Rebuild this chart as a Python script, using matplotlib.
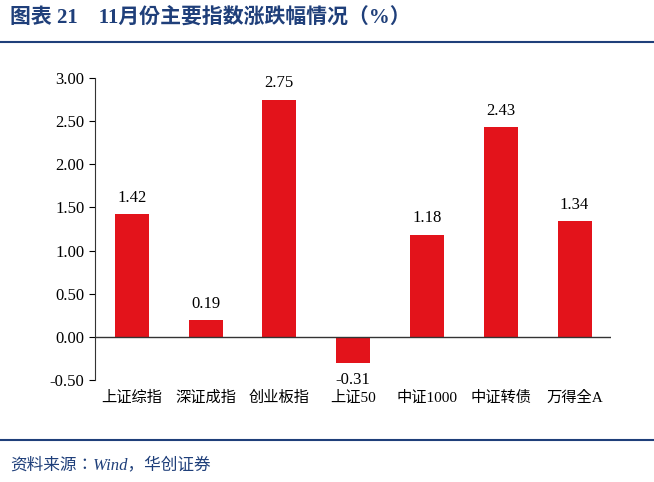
import matplotlib.pyplot as plt
from matplotlib import font_manager
from matplotlib.lines import Line2D

categories = ["上证综指", "深证成指", "创业板指", "上证50", "中证1000", "中证转债", "万得全A"]
changes = [1.42, 0.19, 2.75, -0.31, 1.18, 2.43, 1.34]
yticks = [-0.5, 0.0, 0.5, 1.0, 1.5, 2.0, 2.5, 3.0]

# pick whatever CJK family matplotlib actually registered
cjk_names = sorted({f.name for f in font_manager.fontManager.ttflist if "CJK" in f.name})
CJK = next((n for n in cjk_names if n.endswith("SC")), cjk_names[0] if cjk_names else "DejaVu Sans")
NUM = "Liberation Serif"
BLUE = "#1F3F7A"

fig = plt.figure(figsize=(6.54, 4.82), dpi=100)
ax = fig.add_axes([0.145, 0.212, 0.79, 0.626])

x = range(len(categories))
ax.bar(x, changes, width=0.46, color="#E3131B", zorder=2)
ax.axhline(0, color="#333333", linewidth=1.0, zorder=3)

for i, v in enumerate(changes):
    off = 0.1 if v >= 0 else -0.1
    ax.text(i, v + off, f"{v:.2f}", ha="center", va="bottom" if v >= 0 else "top",
            fontsize=12, fontfamily=NUM)

ax.set_ylim(-0.5, 3.0)
ax.set_xlim(-0.5, len(categories) - 0.5)
ax.set_yticks(yticks)
ax.set_yticklabels([f"{t:.2f}" for t in yticks], fontfamily=NUM, fontsize=12)
ax.set_xticks(list(x))
ax.set_xticklabels(categories, fontfamily=[NUM, CJK], fontsize=11)
ax.tick_params(axis="x", length=0, pad=8)
ax.tick_params(axis="y", direction="out", length=4)
for s in ("top", "right", "bottom"):
    ax.spines[s].set_visible(False)
ax.spines["left"].set_color("#333333")

fig.text(0.015, 0.962, "图表 21    11月份主要指数涨跌幅情况（%）", fontfamily=[NUM, CJK],
         fontsize=15, fontweight="bold", color=BLUE, va="center")
fig.add_artist(Line2D([0.0, 1.0], [0.913, 0.913], color=BLUE, linewidth=1.5))
fig.add_artist(Line2D([0.0, 1.0], [0.087, 0.087], color=BLUE, linewidth=1.5))
fig.text(0.015, 0.035, "资料来源：Wind，华创证券", fontfamily=[NUM, CJK], fontsize=12,
         style="italic", color=BLUE, va="center")

fig.savefig("out.png", dpi=100)
